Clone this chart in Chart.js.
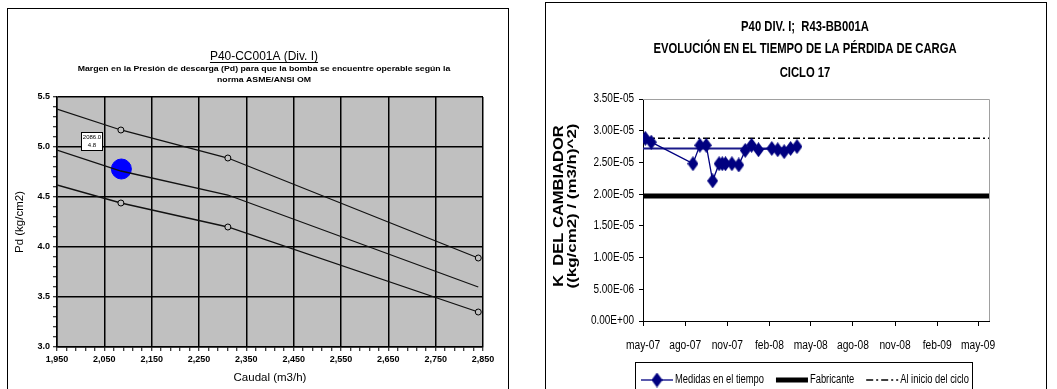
<!DOCTYPE html>
<html>
<head>
<meta charset="utf-8">
<script src="https://cdn.jsdelivr.net/npm/chart.js@4.4.1/dist/chart.umd.min.js"></script>
<style>
html, body { margin: 0; padding: 0; background: #fff; overflow: hidden; }
.caja { position: absolute; border: 1px solid #000; background: #fff; width: 500px; height: 400px; }
#cajaA { left: 7px; top: 8px; }
#cajaB { left: 545px; top: 2px; }
canvas { display: block; }
</style>
</head>
<body>
<div class="caja" id="cajaA"><canvas id="curvas" width="500" height="380"></canvas></div>
<div class="caja" id="cajaB"><canvas id="evolucion" width="500" height="386"></canvas></div>
<script>
// --- curvas de la bomba (izquierda)
const caudal = [1950, 2085, 2311, 2840];
const pdSuperior = [5.38, 5.17, 4.89, 3.89];
const pdCentral = [4.97, 4.76, 4.52, 3.60];
const pdInferior = [4.62, 4.44, 4.20, 3.35];
const puntoCaudal = [2086];
const puntoPd = [4.78];

// --- evolucion K del cambiador (derecha)
const fechas = ['2007-05-06', '2007-05-19', '2007-08-18', '2007-09-02', '2007-09-16', '2007-09-30',
    '2007-10-14', '2007-10-21', '2007-10-28', '2007-11-11', '2007-11-26', '2007-12-10',
    '2007-12-24', '2008-01-08', '2008-02-06', '2008-02-19', '2008-03-04', '2008-03-18', '2008-04-01'];
const kMedida = [2.88e-5, 2.82e-5, 2.48e-5, 2.77e-5, 2.77e-5, 2.21e-5,
    2.48e-5, 2.48e-5, 2.48e-5, 2.48e-5, 2.46e-5, 2.69e-5,
    2.77e-5, 2.70e-5, 2.72e-5, 2.70e-5, 2.67e-5, 2.72e-5, 2.75e-5];
const fechasMedia = ['2007-05-01', '2008-04-01'];
const kMedia = [2.72e-5, 2.72e-5];
const fechasRef = ['2007-05-01', '2009-05-25'];
const kFabricante = [1.97e-5, 1.97e-5];
const kInicio = [2.88e-5, 2.88e-5];
const marcasFecha = ['2007-05-01', '2007-08-01', '2007-11-01', '2008-02-01', '2008-05-01',
    '2008-08-01', '2008-11-01', '2009-02-01', '2009-05-01'];
const marcasK = [0, 0.5e-5, 1.0e-5, 1.5e-5, 2.0e-5, 2.5e-5, 3.0e-5, 3.5e-5];
const meses = ['ene', 'feb', 'mar', 'abr', 'may', 'jun', 'jul', 'ago', 'sep', 'oct', 'nov', 'dic'];

const ARIAL = "'Liberation Sans', Arial, sans-serif";

const pares = (xs, ys) => xs.map((x, i) => ({x: x, y: ys[i]}));
const paresFecha = (fs, ys) => fs.map((f, i) => ({x: Date.parse(f), y: ys[i]}));

function fmtE(v) {
    if (Math.abs(v) < 1e-12) return '0.00E+00';
    const [m, e] = v.toExponential(2).split('e');
    const n = parseInt(e, 10);
    return m + 'E' + (n < 0 ? '-' : '+') + String(Math.abs(n)).padStart(2, '0');
}

function etiquetaMes(ms) {
    const d = new Date(ms);
    return meses[d.getUTCMonth()] + '-' + String(d.getUTCFullYear()).slice(2);
}

// texto con escala horizontal (imita Arial Narrow)
function textoEstrecho(ctx, txt, x, y, align, font, sx) {
    ctx.save();
    ctx.font = font;
    ctx.translate(x, y);
    ctx.scale(sx, 1);
    ctx.textAlign = align;
    ctx.textBaseline = 'middle';
    ctx.fillStyle = '#000';
    ctx.fillText(txt, 0, 0);
    const w = ctx.measureText(txt).width * sx;
    ctx.restore();
    return w;
}

const esMayorX = v => Math.round(v - 1950) % 100 === 0;
const esMayorY = v => Math.round(v * 10) % 5 === 0;

const fondoGris = {
    id: 'fondoGris',
    beforeDraw(chart) {
        const a = chart.chartArea, ctx = chart.ctx;
        ctx.save();
        ctx.fillStyle = '#c0c0c0';
        ctx.fillRect(a.left, a.top, a.right - a.left, a.bottom - a.top);
        ctx.restore();
    }
};

const titulosA = {
    id: 'titulosA',
    afterDraw(chart) {
        const ctx = chart.ctx, cx = 256;
        const t = 'P40-CC001A (Div. I)';
        const w = textoEstrecho(ctx, t, cx, 47.5, 'center', '13px ' + ARIAL, 0.92);
        ctx.save();
        ctx.fillStyle = '#000';
        ctx.fillRect(cx - w / 2, 53, w, 1);
        ctx.restore();
        textoEstrecho(ctx, 'Margen en la Presión de descarga (Pd) para que la bomba se encuentre operable según la',
            cx, 59.5, 'center', 'bold 8px ' + ARIAL, 1.09);
        textoEstrecho(ctx, 'norma ASME/ANSI OM', cx, 70.5, 'center', 'bold 8px ' + ARIAL, 1.09);
    }
};

const etiquetaPunto = {
    id: 'etiquetaPunto',
    afterDatasetsDraw(chart) {
        const el = chart.getDatasetMeta(3).data[0];
        if (!el) return;
        const ctx = chart.ctx;
        const bx = Math.round(el.x - 40), by = Math.round(el.y - 37);
        ctx.save();
        ctx.fillStyle = '#fff';
        ctx.strokeStyle = '#000';
        ctx.lineWidth = 1;
        ctx.fillRect(bx, by, 21, 18);
        ctx.strokeRect(bx + 0.5, by + 0.5, 21, 18);
        ctx.fillStyle = '#000';
        ctx.font = '6px ' + ARIAL;
        ctx.textAlign = 'center';
        ctx.textBaseline = 'middle';
        ctx.fillText(puntoCaudal[0].toFixed(1), bx + 11, by + 5);
        ctx.fillText(puntoPd[0].toFixed(1), bx + 11, by + 13);
        ctx.restore();
    }
};

const curva = (ys, radios) => ({
    data: pares(caudal, ys),
    borderColor: '#111',
    borderWidth: 1.3,
    pointRadius: radios,
    pointBackgroundColor: '#c0c0c0',
    pointBorderColor: '#000',
    pointBorderWidth: 1
});

new Chart(document.getElementById('curvas'), {
    type: 'line',
    data: {
        datasets: [
            curva(pdSuperior, [0, 3, 3, 3]),
            curva(pdCentral, 0),
            curva(pdInferior, [0, 3, 3, 3]),
            {
                data: pares(puntoCaudal, puntoPd),
                showLine: false,
                pointRadius: 10,
                pointBackgroundColor: '#0000ff',
                pointBorderColor: '#0000ff'
            }
        ]
    },
    options: {
        responsive: false,
        animation: false,
        layout: {padding: {left: 0, right: 25, top: 88, bottom: 0}},
        plugins: {legend: {display: false}, tooltip: {enabled: false}},
        scales: {
            x: {
                type: 'linear', min: 1950, max: 2850,
                afterBuildTicks: s => {
                    s.ticks = [];
                    for (let v = 1950; v <= 2850; v += 20) s.ticks.push({value: v});
                },
                afterFit: s => { s.height = 42; },
                ticks: {
                    autoSkip: false, maxRotation: 0, padding: 3, color: '#000',
                    font: {family: ARIAL, size: 9, weight: 'bold'},
                    callback: v => esMayorX(v) ? v.toLocaleString('en-US') : ''
                },
                grid: {
                    color: c => esMayorX(c.tick.value) ? '#000' : 'rgba(0,0,0,0)',
                    lineWidth: 1.5, tickColor: '#000', tickLength: 4, tickWidth: 1
                },
                border: {color: '#000', width: 1.5},
                title: {
                    display: true, text: 'Caudal (m3/h)', color: '#000',
                    font: {family: ARIAL, size: 11.5}, padding: {top: 0, bottom: 4}
                }
            },
            y: {
                min: 3, max: 5.5,
                afterBuildTicks: s => {
                    s.ticks = [];
                    for (let i = 0; i <= 25; i++) s.ticks.push({value: Math.round((3 + i * 0.1) * 10) / 10});
                },
                afterFit: s => { s.width = 49; },
                ticks: {
                    autoSkip: false, padding: 3, color: '#000',
                    font: {family: ARIAL, size: 9, weight: 'bold'},
                    callback: v => esMayorY(v) ? v.toFixed(1) : ''
                },
                grid: {
                    color: c => esMayorY(c.tick.value) ? '#000' : 'rgba(0,0,0,0)',
                    lineWidth: 1.5, tickColor: '#000', tickLength: 4, tickWidth: 1
                },
                border: {color: '#000', width: 1.5},
                title: {
                    display: true, text: 'Pd (kg/cm2)', color: '#000',
                    font: {family: ARIAL, size: 11.5}, padding: {top: 5, bottom: 0}
                }
            }
        }
    },
    plugins: [fondoGris, titulosA, etiquetaPunto]
});

// ---------------- grafico derecho
// rombo algo mas alto que ancho, como en la hoja original
const rombo = document.createElement('canvas');
rombo.width = 11;
rombo.height = 15;
(() => {
    const c = rombo.getContext('2d');
    c.fillStyle = '#000080';
    c.beginPath();
    c.moveTo(5.5, 0);
    c.lineTo(11, 7.5);
    c.lineTo(5.5, 15);
    c.lineTo(0, 7.5);
    c.closePath();
    c.fill();
})();

const bordeGris = {
    id: 'bordeGris',
    beforeDatasetsDraw(chart) {
        const a = chart.chartArea, ctx = chart.ctx;
        ctx.save();
        ctx.strokeStyle = '#a0a0a0';
        ctx.lineWidth = 1;
        ctx.beginPath();
        ctx.moveTo(a.left, a.top + 0.5);
        ctx.lineTo(a.right + 0.5, a.top + 0.5);
        ctx.lineTo(a.right + 0.5, a.bottom);
        ctx.stroke();
        ctx.restore();
    }
};

const etiquetasB = {
    id: 'etiquetasB',
    afterDraw(chart) {
        const ctx = chart.ctx, ex = chart.scales.x, ey = chart.scales.y;
        ex.ticks.forEach(t => textoEstrecho(ctx, t.label, ex.getPixelForValue(t.value), ex.top + 25,
            'center', '12.5px ' + ARIAL, 0.82));
        ey.ticks.forEach(t => textoEstrecho(ctx, t.label, ey.right - 9, ey.getPixelForValue(t.value),
            'right', '12.5px ' + ARIAL, 0.8));
    }
};

const titulosB = {
    id: 'titulosB',
    afterDraw(chart) {
        const ctx = chart.ctx, cx = 259;
        const f = 'bold 15px ' + ARIAL;
        textoEstrecho(ctx, 'P40 DIV. I;  R43-BB001A', cx, 24, 'center', f, 0.75);
        textoEstrecho(ctx, 'EVOLUCIÓN EN EL TIEMPO DE LA PÉRDIDA DE CARGA', cx, 46, 'center', f, 0.75);
        textoEstrecho(ctx, 'CICLO 17', cx, 70, 'center', f, 0.75);
        // titulo del eje Y, dos lineas
        ctx.save();
        ctx.translate(13, 203);
        ctx.rotate(-Math.PI / 2);
        textoEstrecho(ctx, 'K  DEL CAMBIADOR', 0, 0, 'center', 'bold 14px ' + ARIAL, 1.18);
        textoEstrecho(ctx, '((kg/cm2) / (m3/h)^2)', 0, 13, 'center', 'bold 13px ' + ARIAL, 1.3);
        ctx.restore();
    }
};

const leyendaB = {
    id: 'leyendaB',
    afterDraw(chart) {
        const ctx = chart.ctx;
        const y = 377;
        ctx.save();
        ctx.fillStyle = '#fff';
        ctx.fillRect(89, 359, 337, 40);
        ctx.strokeStyle = '#000';
        ctx.lineWidth = 1;
        ctx.strokeRect(89.5, 359.5, 337, 40);
        let x = 95;
        chart.data.datasets.forEach(ds => {
            if (ds.enLeyenda === false) return;
            ctx.save();
            ctx.strokeStyle = ds.borderColor;
            ctx.lineWidth = ds.borderWidth;
            ctx.setLineDash(ds.borderDash || []);
            ctx.beginPath();
            ctx.moveTo(x, y);
            ctx.lineTo(x + 32, y);
            ctx.stroke();
            ctx.restore();
            if (ds.pointRadius > 0) {
                ctx.drawImage(ds.pointStyle, x + 16 - 5.5, y - 7.5);
            }
            const w = textoEstrecho(ctx, ds.label, x + 34, y, 'left', '12px ' + ARIAL, 0.78);
            x += 34 + w + 12;
        });
        ctx.restore();
    }
};

new Chart(document.getElementById('evolucion'), {
    type: 'line',
    data: {
        datasets: [
            {
                label: 'Medidas en el tiempo',
                data: paresFecha(fechas, kMedida),
                borderColor: '#000080', borderWidth: 1.3,
                pointStyle: rombo, pointRadius: 5.5
            },
            {
                label: 'Media', enLeyenda: false,
                data: paresFecha(fechasMedia, kMedia),
                borderColor: '#1a1a8a', borderWidth: 2, pointRadius: 0
            },
            {
                label: 'Fabricante',
                data: paresFecha(fechasRef, kFabricante),
                borderColor: '#000', borderWidth: 5, pointRadius: 0
            },
            {
                label: 'Al inicio del ciclo',
                data: paresFecha(fechasRef, kInicio),
                borderColor: '#000', borderWidth: 1.5, borderDash: [7, 3, 2, 3], pointRadius: 0
            }
        ]
    },
    options: {
        responsive: false,
        animation: false,
        layout: {padding: {left: 0, right: 57, top: 96, bottom: 0}},
        plugins: {legend: {display: false}, tooltip: {enabled: false}},
        scales: {
            x: {
                type: 'linear',
                min: Date.parse(fechasRef[0]), max: Date.parse(fechasRef[1]),
                afterBuildTicks: s => { s.ticks = marcasFecha.map(f => ({value: Date.parse(f)})); },
                afterFit: s => { s.height = 68; },
                ticks: {display: false, autoSkip: false, callback: v => etiquetaMes(v)},
                grid: {drawOnChartArea: false, tickColor: '#000', tickLength: 5, tickWidth: 1},
                border: {color: '#000', width: 1}
            },
            y: {
                min: 0, max: 3.5e-5,
                afterBuildTicks: s => { s.ticks = marcasK.map(v => ({value: v})); },
                afterFit: s => { s.width = 97; },
                ticks: {display: false, autoSkip: false, callback: v => fmtE(v)},
                grid: {drawOnChartArea: false, tickColor: '#000', tickLength: 4, tickWidth: 1},
                border: {color: '#000', width: 1}
            }
        }
    },
    plugins: [bordeGris, etiquetasB, titulosB, leyendaB]
});
</script>
</body>
</html>
